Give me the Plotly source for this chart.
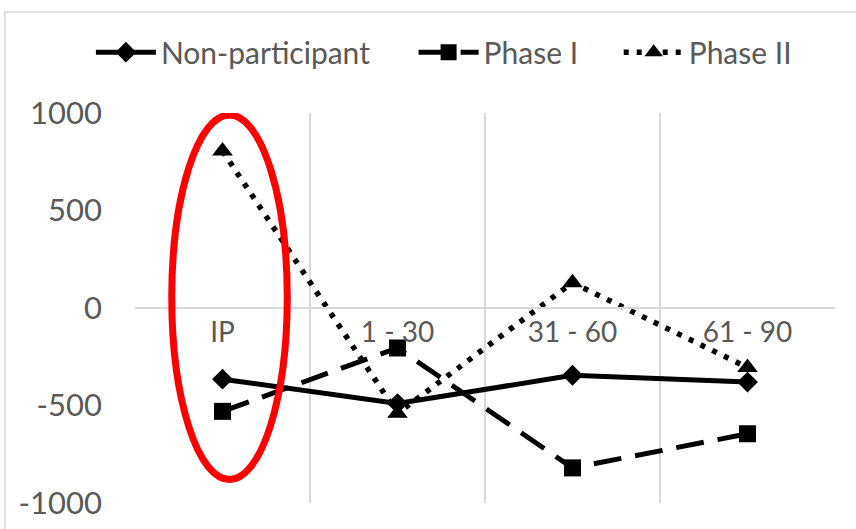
import plotly.graph_objects as go

# Categories and series values
categories = ["IP", "1 - 30", "31 - 60", "61 - 90"]
non_participant = [-365, -490, -345, -380]
phase_1 = [-530, -205, -820, -645]
phase_2 = [805, -540, 130, -305]
y_ticks = [-1000, -500, 0, 500, 1000]
y_tick_text = [str(v) for v in y_ticks]

GRAY = "#595959"
FONT = "Lato"

fig = go.Figure()
fig.add_trace(go.Scatter(
    x=categories, y=non_participant, name="Non-participant", mode="lines+markers",
    line=dict(color="black", width=5, dash="solid"),
    marker=dict(symbol="diamond", size=16, color="black"),
    legend="legend",
))
fig.add_trace(go.Scatter(
    x=categories, y=phase_1, name="Phase I", mode="lines+markers",
    line=dict(color="black", width=5, dash="28px,14px"),
    marker=dict(symbol="square", size=17, color="black"),
    legend="legend2",
))
fig.add_trace(go.Scatter(
    x=categories, y=phase_2, name="Phase II", mode="lines+markers",
    line=dict(color="black", width=5.5, dash="5px,8px"),
    marker=dict(symbol="triangle-up", size=18, color="black"),
    legend="legend3",
))

# Highlight ellipse around the first category
fig.add_shape(type="circle", xref="x", yref="y",
              x0=-0.29, x1=0.37, y0=-880, y1=990,
              line=dict(color="#ff0000", width=7), layer="above")

# Outer chart border
fig.add_shape(type="rect", xref="paper", yref="paper",
              x0=-0.186, x1=1.04, y0=-0.07, y1=1.259,
              line=dict(color="#d9d9d9", width=1.5))

legend_style = dict(orientation="h", y=1.156, yanchor="middle", xanchor="left",
                    font=dict(family=FONT, size=30, color=GRAY), itemwidth=60,
                    bgcolor="rgba(0,0,0,0)")

fig.update_layout(
    width=856, height=529,
    margin=dict(l=135, r=21, t=113, b=26, autoexpand=False),
    paper_bgcolor="white", plot_bgcolor="white",
    font=dict(family=FONT, size=30, color=GRAY),
    showlegend=True,
    legend=dict(x=-0.063, **legend_style),
    legend2=dict(x=0.398, **legend_style),
    legend3=dict(x=0.691, **legend_style),
    xaxis=dict(
        type="category", range=[-0.5, 3.5],
        anchor="free", position=0.5,
        showline=True, linecolor="#d9d9d9", linewidth=1.5,
        showgrid=True, gridcolor="#d9d9d9", gridwidth=1.5,
        tickson="boundaries", ticks="",
        tickfont=dict(family=FONT, size=28, color=GRAY),
        zeroline=False,
    ),
    yaxis=dict(
        range=[-1000, 1000], tickvals=y_ticks, ticktext=y_tick_text,
        showgrid=False, zeroline=False, showline=False,
        ticks="", ticklabelstandoff=32,
        tickfont=dict(family=FONT, size=31, color=GRAY),
    ),
)

fig.write_html("out.html")
